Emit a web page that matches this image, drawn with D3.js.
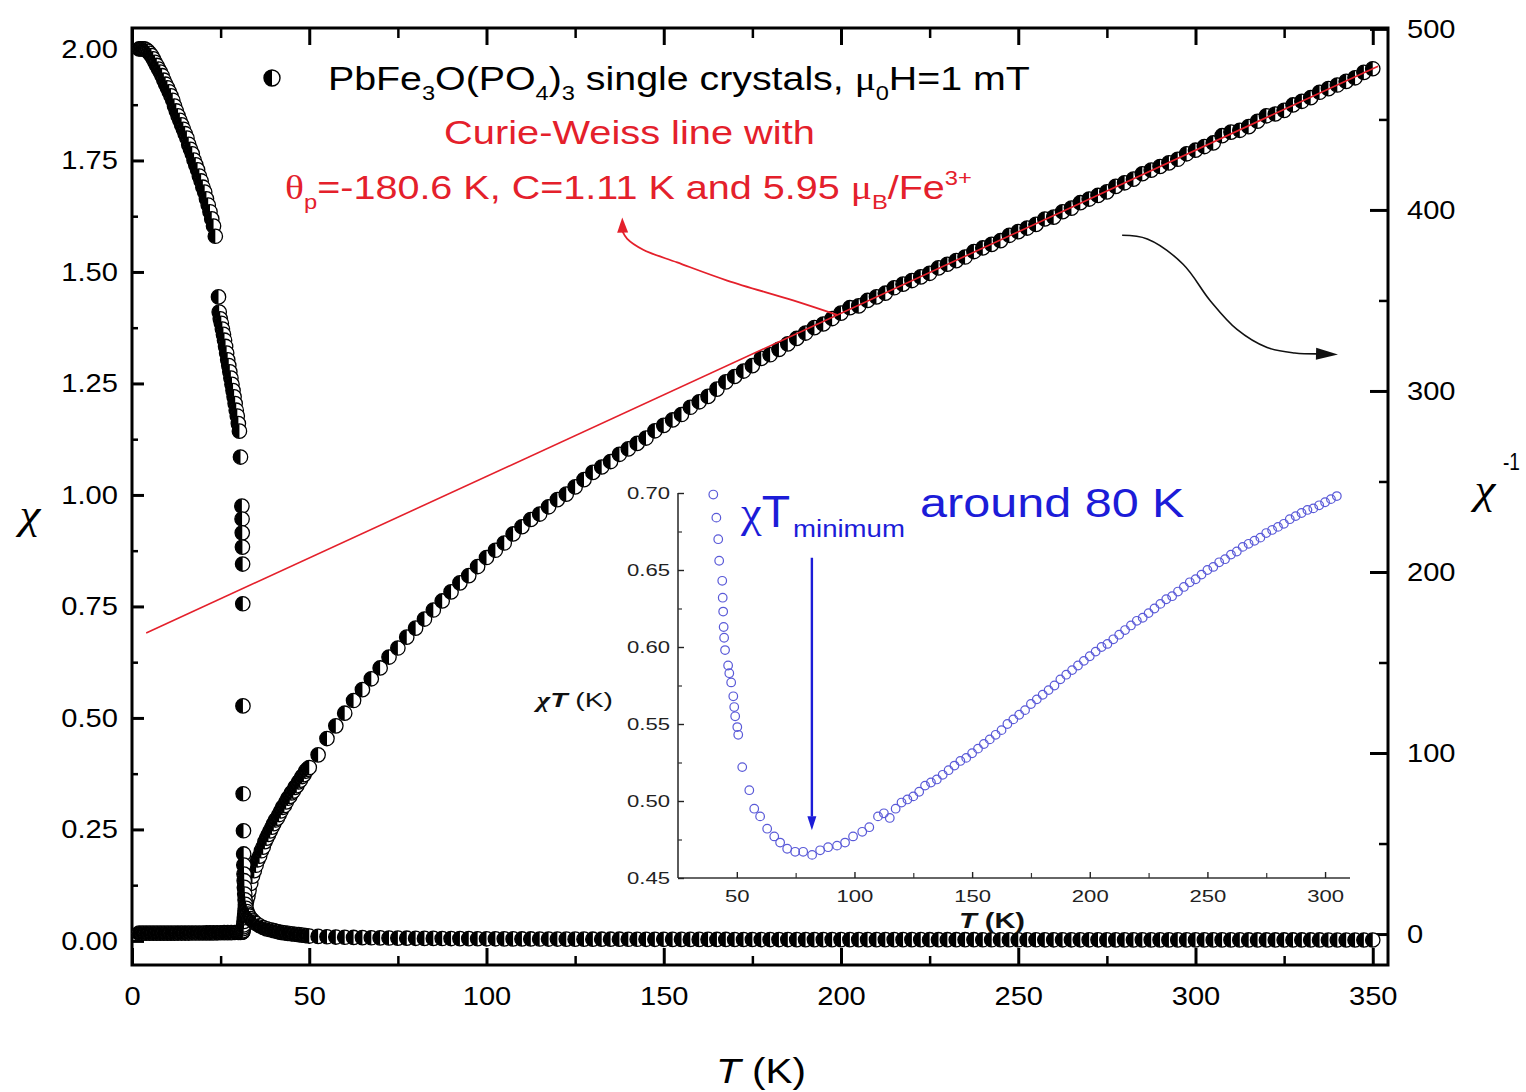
<!DOCTYPE html>
<html><head><meta charset="utf-8">
<script src="https://cdn.jsdelivr.net/npm/d3@7"></script>
<style>body{margin:0;background:#fff} svg{display:block}</style>
</head><body><svg id="c" width="1526" height="1092"></svg>
<script>
// ---------------- DATA ----------------
// chi (left axis) vs T, low-temperature part (T < 50 K)
const chiLowT = [2,2.5,3,3.5,4,4.5,5,5.5,6,6.5,7,7.5,8,8.5,9,9.5,10,10.5,11,11.5,12,12.5,13,13.5,14,14.5,15,15.5,16,16.5,17,17.5,18,18.5,19,19.5,20,20.5,21,21.5,22,22.5,23,23.5,
  24.4,24.6,24.9,25.2,25.5,25.8,26.1,26.4,26.7,27.0,27.3,27.6,27.9,28.2,28.5,28.8,29.1,29.4,29.7,30.0,30.3,30.6,
  31.0,31.05,31.1,31.15,31.2,31.25,31.3,31.35,31.45,31.5,31.55,31.6,31.65,31.7,31.8,31.9,32.0,32.2,32.4,32.7,
  33,33.5,34,34.5,35,36,37,38,39,40,41,42,43,44,45,46,47,48,49];
const chiLowV = [2.000,2.000,2.000,2.000,1.998,1.995,1.990,1.985,1.978,1.970,1.963,1.955,1.948,1.940,1.930,1.921,1.913,1.904,1.895,1.885,1.872,1.861,1.850,1.840,1.830,1.820,1.810,1.800,1.786,1.775,1.765,1.751,1.740,1.729,1.715,1.704,1.690,1.679,1.664,1.650,1.635,1.619,1.603,1.580,
  1.444,1.410,1.395,1.385,1.372,1.360,1.347,1.333,1.318,1.303,1.290,1.276,1.262,1.248,1.234,1.220,1.205,1.190,1.177,1.160,1.143,1.085,
  0.975,0.946,0.915,0.883,0.845,0.756,0.527,0.330,0.247,0.195,0.170,0.150,0.135,0.120,0.105,0.092,0.082,0.073,0.066,0.060,
  0.056,0.050,0.046,0.042,0.039,0.034,0.030,0.027,0.025,0.023,0.021,0.019,0.018,0.017,0.016,0.015,0.014,0.013,0.012];

// 1/chi (right axis) vs T, low-temperature part
const invLowT = [2,3,4,5,6,7,8,9,10,11,12,13,14,15,16,17,18,19,20,21,22,23,24,25,26,27,28,29,30,
  30.6,31.0,31.1,31.2,31.25,31.3,31.35,31.45,31.5,31.6,31.7,31.8,31.9,32.0,32.2,32.4,32.7,
  33,33.5,34,34.5,35,35.5,36,36.5,37,37.5,38,38.5,39,39.5,40,40.5,41,41.5,42,42.5,43,43.5,44,44.5,45,45.5,46,46.5,47,47.5,48,48.5,49,49.5];
const invLowV = [0.50,0.50,0.50,0.50,0.51,0.51,0.51,0.52,0.52,0.53,0.53,0.54,0.55,0.55,0.56,0.57,0.57,0.58,0.59,0.60,0.61,0.62,0.69,0.72,0.75,0.77,0.80,0.84,0.86,
  0.92,1.03,1.09,1.18,1.32,1.90,3.0,4.0,5.0,7.0,9.0,11,13,15,17,19,21,
  24,28,32,35,38,41,43,46,48,51,53,55,57,59,61,63,64,66,68,70,71,73,75,76,78,79,81,82,84,85,87,88,90,91];

// high-temperature part (50 - 350 K), shared temperatures
const highT = [50,52.5,55,57.5,60,62.5,65,67.5,70,72.5,75,77.5,80,82.5,85,87.5,90,92.5,95,97.5,100,102.5,105,107.5,110,112.5,115,117.5,120,122.5,125,127.5,130,132.5,135,137.5,140,142.5,145,147.5,150,152.5,155,157.5,160,162.5,165,167.5,170,172.5,175,177.5,180,182.5,185,187.5,190,192.5,195,197.5,200,202.5,205,207.5,210,212.5,215,217.5,220,222.5,225,227.5,230,232.5,235,237.5,240,242.5,245,247.5,250,252.5,255,257.5,260,262.5,265,267.5,270,272.5,275,277.5,280,282.5,285,287.5,290,292.5,295,297.5,300,302.5,305,307.5,310,312.5,315,317.5,320,322.5,325,327.5,330,332.5,335,337.5,340,342.5,345,347.5,350];
const invHighV = [92,99,108,115,122,129,135,141,147,153,
  158,164,169,174,179,184,189,194,198,203,
  208,212,216,221,225,229,232,236,240,243,
  247,251,255,258,261,265,268,271,274,278,
  281,284,287,291,294,297,301,305,308,311,
  314,318,320,323,326,329,332,335,337,340,
  343,346,347,350,352,354,357,359,361,363,
  365,368,370,372,374,377,379,381,383,386,
  388,390,392,395,396,399,401,404,406,408,
  410,413,415,417,420,422,424,426,428,431,
  433,435,437,441,443,444,446,449,452,453,
  455,458,460,462,465,467,469,471,473,476,
  478];
const chiHighV = [.0109,.0101,.0093,.0087,.0082,.0078,.0074,.0071,.0068,.0065,
  .0063,.0061,.0059,.0057,.0056,.0054,.0053,.0052,.0051,.0049,
  .0048,.0047,.0046,.0045,.0044,.0044,.0043,.0042,.0042,.0041,
  .0040,.0040,.0039,.0039,.0038,.0038,.0037,.0037,.0036,.0036,
  .0036,.0035,.0035,.0034,.0034,.0034,.0033,.0033,.0032,.0032,
  .0032,.0031,.0031,.0031,.0031,.0030,.0030,.0030,.0030,.0029,
  .0029,.0029,.0029,.0029,.0028,.0028,.0028,.0028,.0028,.0028,
  .0027,.0027,.0027,.0027,.0027,.0027,.0026,.0026,.0026,.0026,
  .0026,.0026,.0026,.0025,.0025,.0025,.0025,.0025,.0025,.0025,
  .0024,.0024,.0024,.0024,.0024,.0024,.0024,.0023,.0023,.0023,
  .0023,.0023,.0023,.0023,.0023,.0023,.0022,.0022,.0022,.0022,
  .0022,.0022,.0022,.0022,.0022,.0021,.0021,.0021,.0021,.0021,
  .0021];

// Curie-Weiss line end points (T, 1/chi)
const cwT = [4, 351.5];
const cwV = [166.3, 479.4];

// inset: chi*T vs T
const insetT = [40,41.3,42.1,42.5,43.8,44.0,44.2,44.4,44.6,45.0,46.3,46.8,47.6,48.5,48.9,49.3,50.2,50.6,52.3,55.3,57.4,59.9,62.9,65.9,68.4,71.4,74.8,78.2,82.0,85.4,88.8,92.6,96.0,99.4,103.3,106.3,
  110,112.5,115,117.5,120,122.5,125,127.5,130,132.5,135,137.5,140,142.5,145,147.5,150,152.5,155,157.5,160,162.5,165,167.5,170,172.5,175,177.5,180,182.5,185,187.5,190,192.5,195,197.5,200,202.5,205,207.5,210,212.5,215,217.5,220,222.5,225,227.5,230,232.5,235,237.5,240,242.5,245,247.5,250,252.5,255,257.5,260,262.5,265,267.5,270,272.5,275,277.5,280,282.5,285,287.5,290,292.5,295,297.5,300,302.5,305];
const insetV = [0.699,0.684,0.670,0.656,0.643,0.632,0.623,0.613,0.606,0.598,0.588,0.583,0.577,0.568,0.561,0.555,0.548,0.543,0.522,0.507,0.495,0.490,0.482,0.477,0.473,0.469,0.467,0.467,0.465,0.468,0.470,0.471,0.473,0.477,0.480,0.483,
  .490,.492,.489,.495,.499,.501,.503,.506,.510,.512,
  .514,.517,.520,.523,.526,.528,.531,.534,.537,.540,
  .543,.546,.550,.553,.556,.559,.563,.566,.569,.572,
  .575,.579,.582,.585,.588,.591,.594,.597,.600,.602,
  .605,.608,.611,.614,.617,.619,.622,.625,.628,.631,
  .633,.636,.639,.642,.644,.647,.650,.652,.655,.657,
  .660,.662,.665,.667,.669,.671,.674,.676,.678,.680,
  .683,.685,.687,.689,.690,.692,.694,.696,.698];

// ticks
const xMajor = [0,50,100,150,200,250,300,350];
const xMinor = [25,75,125,175,225,275,325];
const yLMajor = [0,0.25,0.5,0.75,1.0,1.25,1.5,1.75,2.0];
const yLMinor = [0.125,0.375,0.625,0.875,1.125,1.375,1.625,1.875];
const yRMajor = [0,100,200,300,400,500];
const yRMinor = [50,150,250,350,450];
const xIMajor = [50,100,150,200,250,300];
const xIMinor = [75,125,175,225,275];
const yIMajor = [0.45,0.50,0.55,0.60,0.65,0.70];
const yIMinor = [0.475,0.525,0.575,0.625,0.675];

// annotation anchors (data coordinates)
const redArrow = [[198.9,342],[186.5,350],[167.9,361],[153.8,371],[144.2,378],[139.7,384],[138.4,388]];
const redTip = [138.3,395.8];
const blackArrow = [[279.3,386],[286.4,384],[296.5,370],[304.1,350],[311.7,334],[320.2,324],[328.0,321],[334.3,320.5]];
const blackTip = [340.2,320.2];
const blueArrow = [[81.9,0.658],[81.9,0.490]];
const blueTip = [81.9,0.481];

// ---------------- DRAWING ----------------
const FONT = '"Liberation Sans", Arial, Helvetica, sans-serif';
const SERIF = '"Liberation Serif", "DejaVu Serif", serif';
const svg = d3.select("#c");
const RED = "#e4202b", BLUE = "#1c1cd8", IBLUE = "#5a5ad8";

const x = d3.scaleLinear().domain([0, 354.3]).range([132, 1388]);
const yL = d3.scaleLinear().domain([-0.054, 2.047]).range([965, 28]);
const yR = d3.scaleLinear().domain([-17.1, 500.5]).range([965, 28]);
const xI = d3.scaleLinear().domain([25, 310.6]).range([678, 1350]);
const yI = d3.scaleLinear().domain([0.45, 0.70]).range([878, 493]);

function styleAxis(g, sw, fs, sx, color) {
  g.select(".domain").remove();
  g.selectAll(".tick line").attr("stroke", color || "#000").attr("stroke-width", sw);
  g.selectAll(".tick text").attr("font-family", FONT).attr("font-size", fs).attr("fill", color || "#000")
    .each(function() {
      const t = d3.select(this);
      const xx = +t.attr("x") || 0;
      t.attr("x", xx / sx).attr("transform", `scale(${sx},1)`);
    });
}

// main axes
const MS = 1.12;
svg.append("g").attr("transform", "translate(0,965)")
  .call(d3.axisBottom(x).tickValues(xMajor).tickSize(-17).tickPadding(22).tickFormat(d3.format("d")))
  .call(g => styleAxis(g, 3, 26, MS));
svg.append("g").attr("transform", "translate(0,965)")
  .call(d3.axisBottom(x).tickValues(xMinor).tickSize(-9).tickFormat(""))
  .call(g => styleAxis(g, 2.5, 26, 1));
svg.append("g").attr("transform", "translate(0,28)")
  .call(d3.axisTop(x).tickValues(xMajor).tickSize(-17).tickFormat(""))
  .call(g => styleAxis(g, 3, 26, 1));
svg.append("g").attr("transform", "translate(0,28)")
  .call(d3.axisTop(x).tickValues(xMinor).tickSize(-10).tickFormat(""))
  .call(g => styleAxis(g, 2.5, 26, 1));
svg.append("g").attr("transform", "translate(132,0)")
  .call(d3.axisLeft(yL).tickValues(yLMajor).tickSize(-12).tickPadding(14).tickFormat(d3.format(".2f")))
  .call(g => styleAxis(g, 3, 26, MS));
svg.append("g").attr("transform", "translate(132,0)")
  .call(d3.axisLeft(yL).tickValues(yLMinor).tickSize(-6).tickFormat(""))
  .call(g => styleAxis(g, 2.5, 26, 1));
svg.append("g").attr("transform", "translate(1388,0)")
  .call(d3.axisRight(yR).tickValues(yRMajor).tickSize(-18).tickPadding(19).tickFormat(d3.format("d")))
  .call(g => styleAxis(g, 3, 26, MS));
svg.append("g").attr("transform", "translate(1388,0)")
  .call(d3.axisRight(yR).tickValues(yRMinor).tickSize(-9).tickFormat(""))
  .call(g => styleAxis(g, 2.5, 26, 1));
svg.append("rect").attr("x", 132).attr("y", 28).attr("width", 1256).attr("height", 937)
  .attr("fill", "none").attr("stroke", "#000").attr("stroke-width", 3);

// markers (half filled circles)
const R = 7.2;
const halfPath = r => `M0,${-r}A${r},${r} 0 0 0 0,${r}Z`;
function drawSeries(Ts, Vs, yScale) {
  const g = svg.append("g");
  const m = g.selectAll("g").data(d3.zip(Ts, Vs)).join("g")
    .attr("transform", d => `translate(${x(d[0])},${yScale(d[1])})`);
  m.append("circle").attr("r", R).attr("fill", "#fff").attr("stroke", "#000").attr("stroke-width", 1.3);
  m.append("path").attr("d", halfPath(R)).attr("fill", "#000");
}
drawSeries(invLowT, invLowV, yR);
drawSeries(highT, invHighV, yR);
drawSeries(chiLowT, chiLowV, yL);
drawSeries(highT, chiHighV, yL);

// Curie-Weiss line
svg.append("path").datum(d3.zip(cwT, cwV))
  .attr("d", d3.line().x(d => x(d[0])).y(d => yR(d[1])))
  .attr("stroke", RED).attr("stroke-width", 1.6).attr("fill", "none");

// arrows
function arrow(pts, tip, sx, sy, color, width, headLen, headW, curve) {
  const P = pts.map(p => [sx(p[0]), sy(p[1])]);
  svg.append("path").datum(P).attr("d", d3.line().curve(curve || d3.curveCatmullRom)(P))
    .attr("fill", "none").attr("stroke", color).attr("stroke-width", width);
  const T = [sx(tip[0]), sy(tip[1])];
  const B = P[P.length - 1];
  const dx = T[0] - B[0], dy = T[1] - B[1], L = Math.hypot(dx, dy);
  const ux = dx / L, uy = dy / L;
  const bx = T[0] - ux * headLen, by = T[1] - uy * headLen;
  svg.append("path").attr("d", `M${T[0]},${T[1]}L${bx - uy * headW},${by + ux * headW}L${bx + uy * headW},${by - ux * headW}Z`)
    .attr("fill", color);
}
arrow(redArrow, redTip, x, yR, RED, 1.8, 15, 5.5);
arrow(blackArrow, blackTip, x, yR, "#111", 1.6, 22, 6);

// inset axes
const IS = 1.3, IC = "#333";
svg.append("line").attr("x1", 678).attr("x2", 678).attr("y1", yI(0.70)).attr("y2", yI(0.45)).attr("stroke", IC).attr("stroke-width", 1.6);
svg.append("line").attr("x1", 678).attr("x2", 1350).attr("y1", 878).attr("y2", 878).attr("stroke", IC).attr("stroke-width", 1.6);
svg.append("g").attr("transform", "translate(678,0)")
  .call(d3.axisLeft(yI).tickValues(yIMajor).tickSize(-6).tickPadding(8).tickFormat(d3.format(".2f")))
  .call(g => styleAxis(g, 1.4, 17, IS, "#222"));
svg.append("g").attr("transform", "translate(678,0)")
  .call(d3.axisLeft(yI).tickValues(yIMinor).tickSize(-4).tickFormat(""))
  .call(g => styleAxis(g, 1.2, 17, 1, IC));
svg.append("g").attr("transform", "translate(0,878)")
  .call(d3.axisBottom(xI).tickValues(xIMajor).tickSize(-6).tickPadding(12).tickFormat(d3.format("d")))
  .call(g => styleAxis(g, 1.4, 17, IS, "#222"));
svg.append("g").attr("transform", "translate(0,878)")
  .call(d3.axisBottom(xI).tickValues(xIMinor).tickSize(-5).tickFormat(""))
  .call(g => styleAxis(g, 1.2, 17, 1, IC));

// inset data
svg.append("g").selectAll("circle").data(d3.zip(insetT, insetV)).join("circle")
  .attr("cx", d => xI(d[0])).attr("cy", d => yI(d[1])).attr("r", 4.3)
  .attr("fill", "none").attr("stroke", IBLUE).attr("stroke-width", 1.2);

arrow(blueArrow, blueTip, xI, yI, BLUE, 2.4, 14, 4.5, d3.curveLinear);

// ---------------- TEXT ----------------
function rich(parts, o) {
  const t = svg.append("text").attr("font-family", FONT).attr("font-size", o.size)
    .attr("fill", o.fill || "#000").attr("x", 0).attr("y", 0);
  let cur = 0;
  parts.forEach(p => {
    const small = p.sub || p.sup;
    const fs = small ? o.size * (p.k || 0.6) : o.size;
    const shift = p.sub ? o.size * 0.28 : p.sup ? -o.size * 0.42 : 0;
    const ts = t.append("tspan").text(p.t).attr("font-size", fs).attr("dy", shift - cur);
    cur = shift;
    if (p.it) ts.attr("font-style", "italic");
    if (p.b) ts.attr("font-weight", "bold");
    if (p.f) ts.attr("font-family", p.f);
  });
  const bb = t.node().getBBox();
  const s = o.width ? o.width / bb.width : 1;
  let x0 = o.x - bb.x * s;
  if (o.anchor === "middle") x0 = o.x - (o.width || bb.width) / 2 - bb.x * s;
  t.attr("transform", `translate(${x0},${o.y}) scale(${s},1)`);
  return t;
}

// legend
{
  const g = svg.append("g").attr("transform", "translate(272,78)");
  g.append("circle").attr("r", 8).attr("fill", "#fff").attr("stroke", "#000").attr("stroke-width", 1.4);
  g.append("path").attr("d", halfPath(8)).attr("fill", "#000");
}
rich([{t:"PbFe"},{t:"3",sub:1},{t:"O(PO"},{t:"4",sub:1},{t:")"},{t:"3",sub:1},{t:" single crystals, "},{t:"μ",f:SERIF},{t:"0",sub:1},{t:"H=1 mT"}],
  {x: 328, y: 90, size: 34, width: 702});
rich([{t:"Curie-Weiss line with"}], {x: 444, y: 144, size: 34, width: 371, fill: RED});
rich([{t:"θ",f:SERIF},{t:"p",sub:1},{t:"=-180.6 K, C=1.11 K and 5.95 "},{t:"μ",f:SERIF},{t:"B",sub:1},{t:"/Fe"},{t:"3+",sup:1}],
  {x: 285, y: 199, size: 34, width: 687, fill: RED});

// inset annotation
rich([{t:"χ",f:SERIF},{t:"T"}], {x: 740, y: 527, size: 44, width: 50, fill: BLUE});
rich([{t:"minimum"}], {x: 793, y: 537, size: 24, width: 112, fill: BLUE});
rich([{t:"around 80 K"}], {x: 920, y: 517, size: 40, width: 265, fill: BLUE});

// inset axis labels
rich([{t:"χ", b:1, it:1, f:SERIF},{t:"T", b:1, it:1},{t:" (K)"}], {x: 533, y: 707, size: 21, width: 80, fill: "#111"});
rich([{t:"T", b:1, it:1},{t:" (K)", b:1}], {x: 992, y: 928, size: 22, width: 66, anchor: "middle", fill: "#111"});

// main axis titles
rich([{t:"T", it:1},{t:" (K)"}], {x: 716, y: 1083, size: 36, width: 90});
rich([{t:"χ", f:SERIF, it:1}], {x: 15, y: 528, size: 42, width: 27});
rich([{t:"χ", f:SERIF, it:1}], {x: 1470, y: 503, size: 42, width: 27});
rich([{t:"-1"}], {x: 1503, y: 470, size: 24, width: 17});
</script>
</body></html>
